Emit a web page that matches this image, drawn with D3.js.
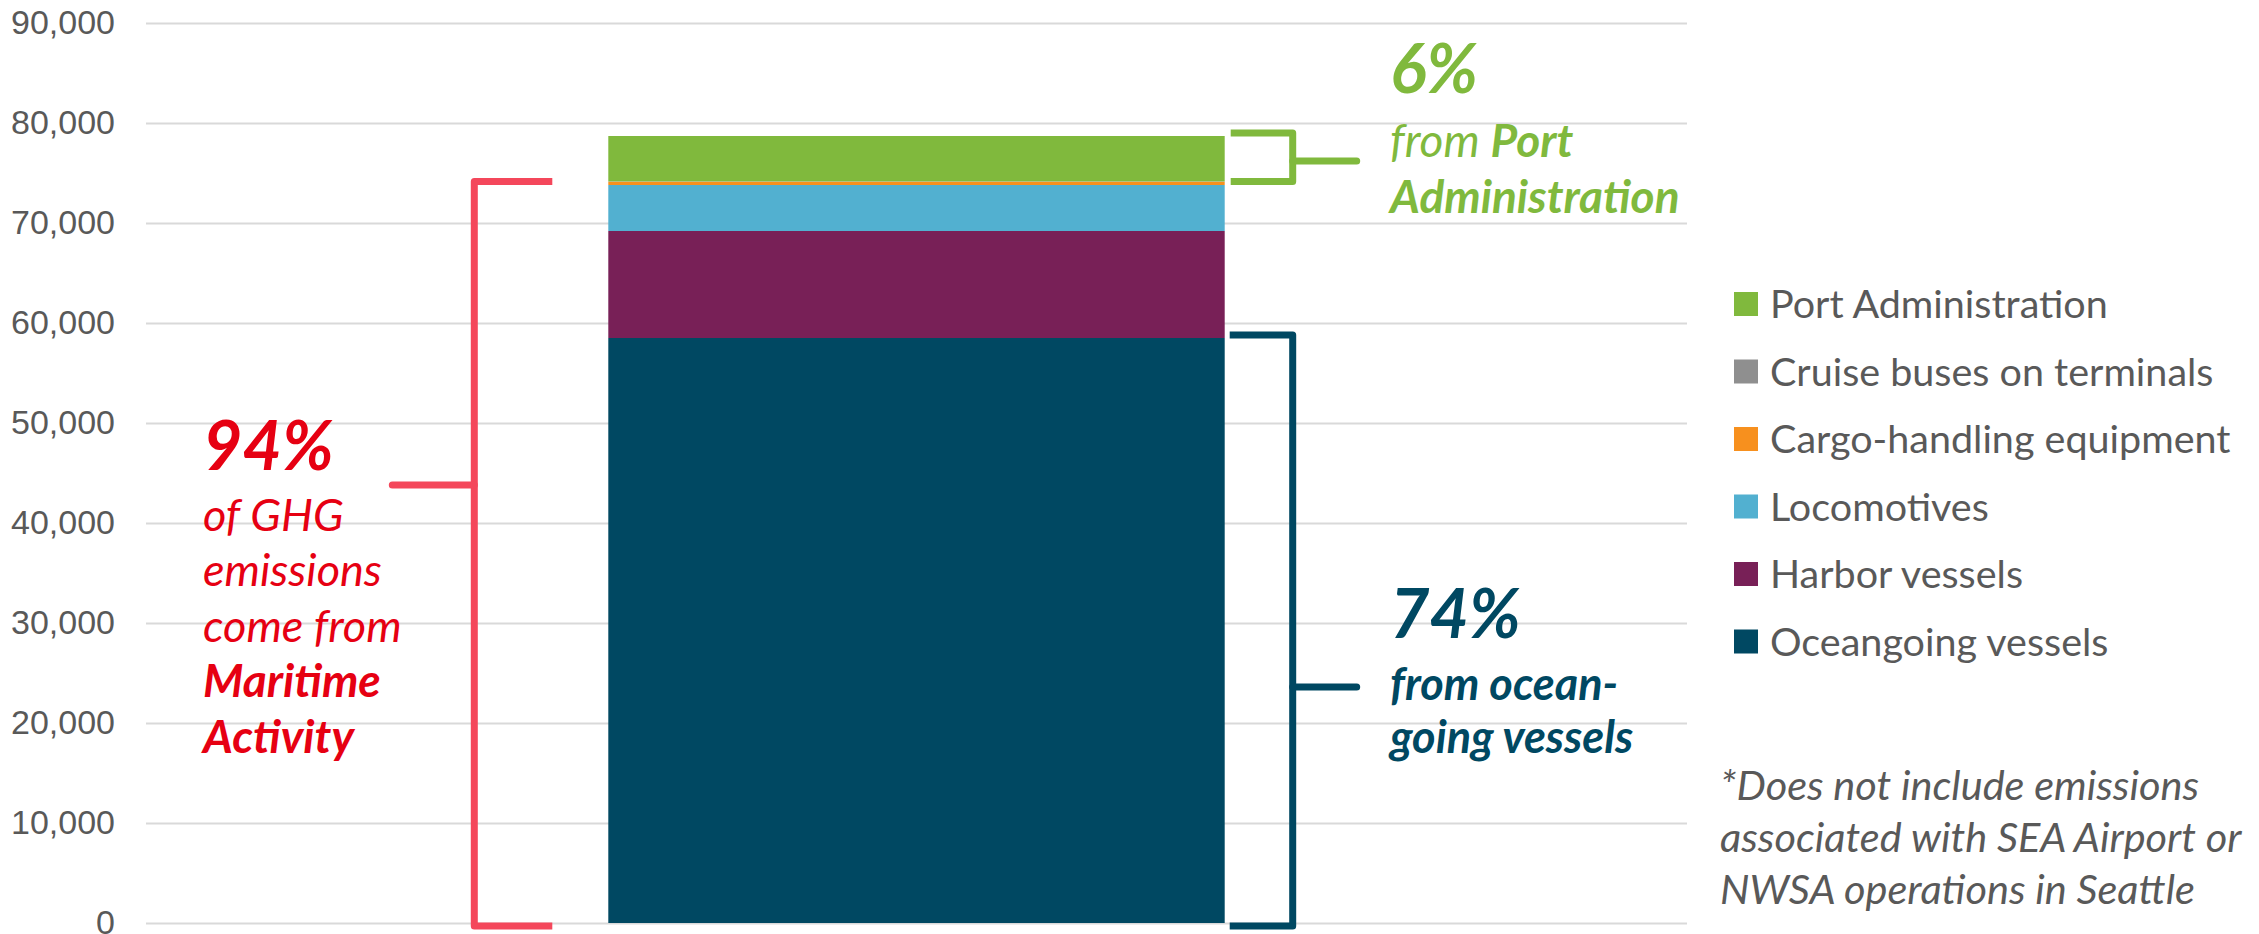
<!DOCTYPE html>
<html>
<head>
<meta charset="utf-8">
<script src="https://cdn.jsdelivr.net/npm/d3@7"></script>
<style>
  html, body { margin: 0; padding: 0; background: #ffffff; }
  svg { display: block; font-family: Lato, "Open Sans", sans-serif; }
</style>
</head>
<body>
<svg id="chart" width="2259" height="934"></svg>
<script>
// Greenhouse-gas emissions by source (metric tons CO2e), one stacked bar
const categories = ["Port emissions"];
const seriesNames = [
  "Oceangoing vessels",
  "Harbor vessels",
  "Locomotives",
  "Cargo-handling equipment",
  "Cruise buses on terminals",
  "Port Administration"
];
const seriesValues = [58500, 10700, 4600, 330, 30, 4540];
const seriesColors = ["#004862", "#782057", "#52b0d0", "#f7901e", "#8f8f8f", "#80b93d"];
const yTicks = [0, 10000, 20000, 30000, 40000, 50000, 60000, 70000, 80000, 90000];
const footnoteLines = ["*Does not include emissions", "associated with SEA Airport or", "NWSA operations in Seattle"];

const svg = d3.select("#chart");
const plot = { left: 146, right: 1687, top: 23, bottom: 923 };

const x = d3.scaleBand()
  .domain(categories)
  .range([plot.left, plot.right])
  .paddingInner(0)
  .paddingOuter(0.75);

const y = d3.scaleLinear()
  .domain([0, 90000])
  .range([plot.bottom, plot.top]);

// gridlines + tick labels
const yAxis = d3.axisLeft(y)
  .tickValues(yTicks)
  .tickFormat(d3.format(","))
  .tickSize(-(plot.right - plot.left))
  .tickPadding(31);

const gAxis = svg.append("g")
  .attr("transform", `translate(${plot.left},0)`)
  .call(yAxis);
gAxis.select(".domain").remove();
gAxis.selectAll(".tick line").attr("stroke", "#d9d9d9").attr("stroke-width", 2);
gAxis.selectAll(".tick text")
  .attr("fill", "#595959")
  .style("font-size", "34px")
  .attr("dy", "0.32em");

// stacked bar
const row = {};
seriesNames.forEach((n, i) => row[n] = seriesValues[i]);
const stack = d3.stack().keys(seriesNames)([Object.assign({ cat: categories[0] }, row)]);

svg.append("g").selectAll("rect")
  .data(stack)
  .join("rect")
  .attr("x", x(categories[0]))
  .attr("width", x.bandwidth())
  .attr("y", d => y(d[0][1]))
  .attr("height", d => y(d[0][0]) - y(d[0][1]))
  .attr("fill", (d, i) => seriesColors[i]);

// totals for the call-outs
const total = d3.sum(seriesValues);
const maritime = d3.sum(seriesValues.slice(0, 5));
const ocean = seriesValues[0];
const admin = seriesValues[5];
const pct = v => Math.round(v / total * 100) + "%";

const barL = x(categories[0]);
const barR = barL + x.bandwidth();

// bracket: arms from armX to spineX, tick from spineX to tipX
function bracket(opts) {
  const yTop = y(opts.hi) - opts.padTop;
  const yBot = y(opts.lo) + opts.padBot;
  const yTick = y(opts.tick);
  const g = svg.append("g")
    .attr("fill", "none")
    .attr("stroke", opts.color)
    .attr("stroke-width", 7);
  g.append("path")
    .attr("stroke-linejoin", "round")
    .attr("d", `M${opts.armX},${yTop}H${opts.spineX}V${yBot}H${opts.armX}`);
  g.append("line")
    .attr("stroke-linecap", "round")
    .attr("x1", opts.spineX).attr("x2", opts.tipX)
    .attr("y1", yTick).attr("y2", yTick);
}

bracket({ lo: 0, hi: maritime, tick: 43800, padTop: 0, padBot: 3,
  armX: barL - 56, spineX: barL - 134, tipX: barL - 216, color: "#f4475b" });
bracket({ lo: 0, hi: ocean, tick: 23600, padTop: 3, padBot: 3,
  armX: barR + 5, spineX: barR + 68, tipX: barR + 132, color: "#004862" });
bracket({ lo: maritime, hi: total, tick: 76200, padTop: 3, padBot: 0,
  armX: barR + 6, spineX: barR + 68, tipX: barR + 132, color: "#80b93d" });

// call-out text
function textBlock(xPos, lines, color) {
  const t = svg.append("g").attr("fill", color).style("font-style", "italic");
  lines.forEach(l => {
    const el = t.append("text")
      .attr("x", xPos)
      .attr("y", l.y)
      .style("font-size", l.size + "px");
    l.parts.forEach(p => el.append("tspan")
      .style("font-weight", p.bold ? 700 : 400)
      .text(p.t));
  });
}

const leftX = 203;
textBlock(leftX, [
  { y: 470, size: 68, parts: [{ t: pct(maritime), bold: true }] },
  { y: 531, size: 45, parts: [{ t: "of GHG" }] },
  { y: 586, size: 45, parts: [{ t: "emissions" }] },
  { y: 642, size: 45, parts: [{ t: "come from" }] },
  { y: 697, size: 46, parts: [{ t: "Maritime", bold: true }] },
  { y: 753, size: 46, parts: [{ t: "Activity", bold: true }] }
], "#e60012");

const rightX = 1390;
textBlock(rightX, [
  { y: 93, size: 68, parts: [{ t: pct(admin), bold: true }] },
  { y: 157, size: 46, parts: [{ t: "from " }, { t: "Port", bold: true }] },
  { y: 213, size: 46, parts: [{ t: "Administration", bold: true }] }
], "#80b93d");

textBlock(rightX, [
  { y: 638, size: 68, parts: [{ t: pct(ocean), bold: true }] },
  { y: 700, size: 45, parts: [{ t: "from ocean-", bold: true }] },
  { y: 753, size: 45, parts: [{ t: "going vessels", bold: true }] }
], "#004862");

// legend, top entry = top of the stack
const legendOrder = d3.range(seriesNames.length).reverse();
const legend = svg.append("g").attr("transform", "translate(1734,304)");
const item = legend.selectAll("g")
  .data(legendOrder)
  .join("g")
  .attr("transform", (d, i) => `translate(0,${i * 67.5})`);
item.append("rect")
  .attr("x", 0).attr("y", -12)
  .attr("width", 24).attr("height", 24)
  .attr("fill", d => seriesColors[d]);
item.append("text")
  .attr("x", 36)
  .attr("dy", "0.36em")
  .attr("fill", "#595959")
  .style("font-size", "39.5px")
  .text(d => seriesNames[d]);

// footnote
const note = svg.append("g")
  .attr("fill", "#595959")
  .style("font-style", "italic")
  .style("font-size", "41.5px");
footnoteLines.forEach((t, i) => note.append("text").attr("x", 1720).attr("y", 800 + i * 52).text(t));
</script>
</body>
</html>
